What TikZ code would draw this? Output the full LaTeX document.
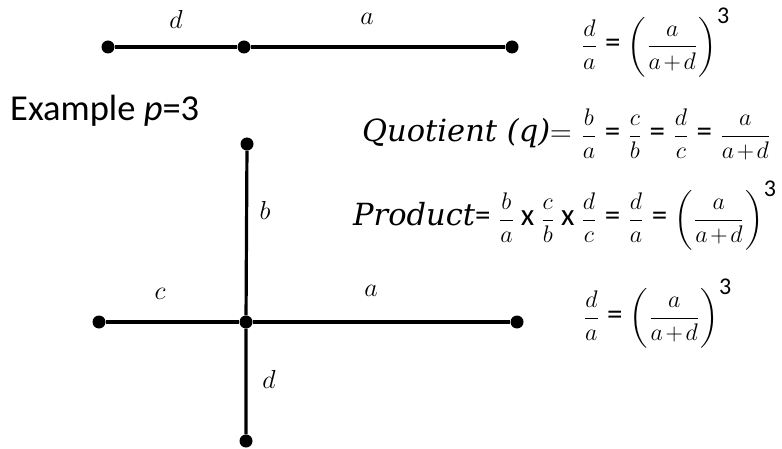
\RequirePackage{fix-cm}
\documentclass[tikz,border=0pt]{standalone}
\usepackage{amsmath}
\usepackage{fontspec}
\setmainfont{Carlito}
\newfontfamily\dvs{DejaVu Serif}
\usepackage{tikz}
\usetikzlibrary{positioning}
\tikzset{
  dot/.style={circle,fill=black,inner sep=0pt,minimum size=13},
  seg/.style={line width=3.2pt},
  lbl/.style={font=\fontsize{26}{30}\selectfont},
  eqn/.style={font=\fontsize{24}{28}\selectfont,inner sep=0pt,anchor=base west}
}
\newcommand*{\eqs}{\mathrel{\text{\fontsize{31}{34}\selectfont =}}}
\newcommand*{\tms}{\mathbin{\text{\fontsize{31}{34}\selectfont x}}}
\newcommand*{\cube}{^{\text{\fontsize{24}{26}\selectfont 3}}}
\newcommand*{\wrd}[1]{{\fontsize{30.5}{34}\selectfont\dvs\itshape #1}}
\newcommand*{\ad}{a\mskip2mu{+}\mskip2mu d}
\newcommand*{\pw}{\biggl(\frac{a}{\ad}\biggr)\cube}
\begin{document}
\begin{tikzpicture}[x=1pt,y=-1pt]

  % frame
  \useasboundingbox (0,0) rectangle (782,449);

  % Line with d and a
  \node[dot] (l1) at (108,47) {};
  \node[dot] (m1) at (244,47) {};
  \node[dot] (r1) at (512,47) {};
  \draw[seg] (l1) -- (m1) -- (r1);
  \node[lbl] (d1) at (176,19) {$d$};
  \node[lbl] (a1) at (367,19) {$a$};

  % First relation
  \node[eqn] (eq1) at (580,53)
    {\nulldelimiterspace=3pt$\displaystyle\frac{d}{a}\eqs\pw$};

  % Example
  \node[font=\fontsize{36.5}{40}\selectfont,anchor=base west,inner sep=0pt] (ex) at (10,121) {Example \textit{p}=3};

  % Cross
  \node[dot] (top) at (247,144) {};
  \node[dot] (ctr) at (246,322) {};
  \node[dot] (lft) at (99,322) {};
  \node[dot] (rgt) at (517,322) {};
  \node[dot] (bot) at (246,441) {};
  \draw[seg] (top) -- (ctr) -- (bot);
  \draw[seg] (lft) -- (ctr) -- (rgt);
  \node[lbl] (b2) at (265,210) {$b$};
  \node[lbl] (c2) at (160,294) {$c$};
  \node[lbl] (a2) at (371,291) {$a$};
  \node[lbl] (d2) at (269,379) {$d$};

  % Quotient and product
  \node[eqn] (quo) at (362,142)
    {\nulldelimiterspace=3pt\wrd{Quotient (q)}{\fontsize{30}{34}\selectfont$=$}\hspace{8pt}$\displaystyle
     \frac{b}{a}\eqs\frac{c}{b}\eqs\frac{d}{c}\eqs\frac{a}{\ad}$};
  \node[eqn] (prod) at (353,226)
    {\nulldelimiterspace=3pt\wrd{Product}$\displaystyle\eqs\frac{b}{a}\tms\frac{c}{b}\tms\frac{d}{c}
     \eqs\frac{d}{a}\eqs\pw$};

  % Second relation
  \node[eqn] (eq2) at (582,324)
    {\nulldelimiterspace=3pt$\displaystyle\frac{d}{a}\eqs\pw$};

\end{tikzpicture}
\end{document}
